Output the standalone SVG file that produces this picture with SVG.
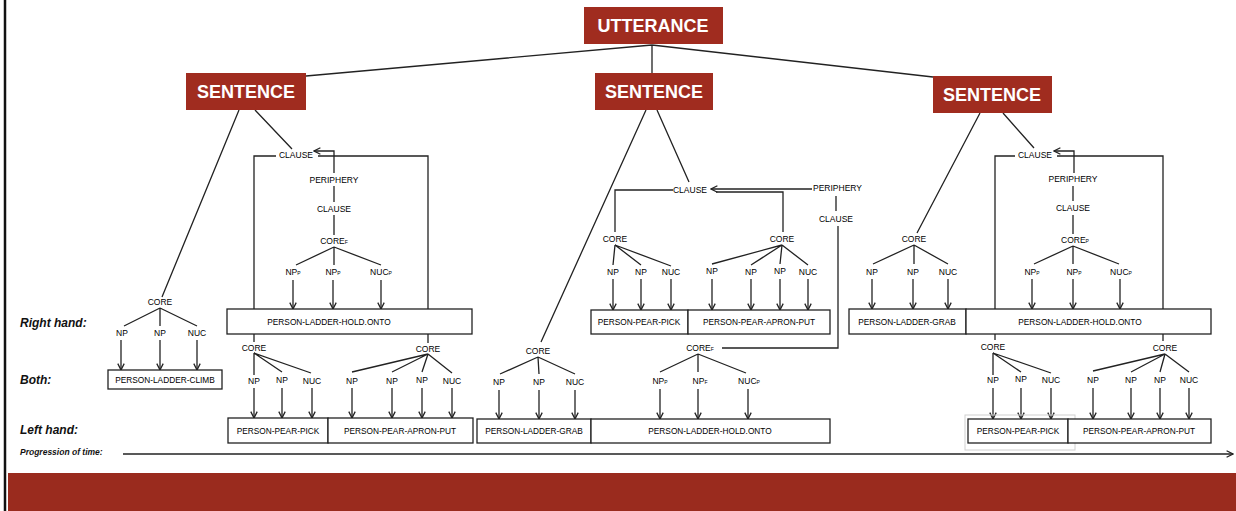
<svg xmlns="http://www.w3.org/2000/svg" width="1236" height="511" viewBox="0 0 1236 511">
<style>
.hdr{fill:#a02c1f}
.ht{font-family:"Liberation Sans",Arial,sans-serif;font-weight:bold;font-size:18px;fill:#fff;text-anchor:middle}
.lb{font-family:"Liberation Sans",Arial,sans-serif;font-size:8.5px;fill:#000;text-anchor:middle}
.bt{font-family:"Liberation Sans",Arial,sans-serif;font-size:8.3px;fill:#000;text-anchor:middle}
.row{font-family:"Liberation Sans",Arial,sans-serif;font-weight:bold;font-style:italic;font-size:12px;fill:#111}
.sub{font-size:5px}
.box{fill:#fff;stroke:#222;stroke-width:1.3}
.ln{fill:none;stroke:#222;stroke-width:1.3}
.ar{fill:none;stroke:#222;stroke-width:1.3;marker-end:url(#ah)}
</style>
<defs>
<marker id="ah" viewBox="0 0 10 10" refX="9" refY="5" markerWidth="8" markerHeight="8" orient="auto" markerUnits="userSpaceOnUse">
<path d="M1,1 L9,5 L1,9" fill="none" stroke="#222" stroke-width="1.6"/>
</marker>
</defs>
<rect width="1236" height="511" fill="#fff"/>
<line x1="5" y1="0" x2="5" y2="511" stroke="#111" stroke-width="2.5"/>
<rect x="8" y="473" width="1228" height="38" fill="#9a2b1e"/>

<g id="connectors">
<path class="ln" d="M652,45 L306,76 M652,45 L652,73 M652,45 L933,77"/>
<!-- left sentence -->
<path class="ln" d="M239,110 L162,297 M255,110 L292,149"/>
<path class="ln" d="M276,156 L254,156 L254,342"/>
<path class="ar" d="M334,173 L334,151 L314,151"/>
<path class="ln" d="M318,156 L428,156 L428,343"/>
<path class="ln" d="M334,186 L334,202 M334,215 L334,235"/>
<path class="ln" d="M334,247 L296,265 M334,247 L334,265 M334,247 L381,265"/>
<line class="ar" x1="293" y1="280" x2="293" y2="309"/>
<line class="ar" x1="333" y1="280" x2="333" y2="309"/>
<line class="ar" x1="381" y1="280" x2="381" y2="309"/>
<path class="ln" d="M160,308 L124,326 M160,308 L160,326 M160,308 L197,326"/>
<line class="ar" x1="121" y1="340" x2="121" y2="370"/>
<line class="ar" x1="160" y1="340" x2="160" y2="370"/>
<line class="ar" x1="197" y1="340" x2="197" y2="370"/>
<path class="ln" d="M254,353 L254,375 M254,353 L282,372 M254,353 L311,373"/>
<line class="ar" x1="254" y1="388" x2="254" y2="418"/>
<line class="ar" x1="282" y1="388" x2="282" y2="418"/>
<line class="ar" x1="312" y1="388" x2="312" y2="418"/>
<path class="ln" d="M428,354 L352,372 M428,354 L392,372 M428,354 L422,372 M428,354 L452,373"/>
<line class="ar" x1="352" y1="388" x2="352" y2="418"/>
<line class="ar" x1="392" y1="388" x2="392" y2="418"/>
<line class="ar" x1="422" y1="388" x2="422" y2="418"/>
<line class="ar" x1="452" y1="388" x2="452" y2="418"/>
<!-- middle sentence -->
<path class="ln" d="M646,110 L541,342 M657,110 L689,182"/>
<path class="ln" d="M673,190 L615,190 L615,232"/>
<path class="ar" d="M812,189 L711,189"/>
<path class="ln" d="M716,192 L783,192 L783,232"/>
<path class="ln" d="M836,196 L836,211 M838,226 L838,348 L722,348"/>
<path class="ln" d="M615,245 L613,265 M615,245 L641,265 M615,245 L671,266"/>
<line class="ar" x1="613" y1="279" x2="613" y2="310"/>
<line class="ar" x1="641" y1="279" x2="641" y2="310"/>
<line class="ar" x1="671" y1="279" x2="671" y2="310"/>
<path class="ln" d="M782,245 L712,264 M782,245 L751,265 M782,245 L780,264 M782,245 L808,265"/>
<line class="ar" x1="712" y1="279" x2="712" y2="310"/>
<line class="ar" x1="751" y1="279" x2="751" y2="310"/>
<line class="ar" x1="780" y1="279" x2="780" y2="310"/>
<line class="ar" x1="808" y1="279" x2="808" y2="310"/>
<path class="ln" d="M538,357 L500,374 M538,357 L539,374 M538,357 L575,374"/>
<line class="ar" x1="499" y1="390" x2="499" y2="419"/>
<line class="ar" x1="539" y1="390" x2="539" y2="419"/>
<line class="ar" x1="575" y1="390" x2="575" y2="419"/>
<path class="ln" d="M698,354 L660,372 M698,354 L698,372 M698,354 L746,373"/>
<line class="ar" x1="660" y1="389" x2="660" y2="419"/>
<line class="ar" x1="698" y1="389" x2="698" y2="419"/>
<line class="ar" x1="748" y1="389" x2="748" y2="419"/>
<!-- right sentence -->
<path class="ln" d="M980,113 L917,233 M1003,113 L1034,148"/>
<path class="ln" d="M1015,156 L995,156 L995,340"/>
<path class="ar" d="M1074,173 L1074,151 L1054,151"/>
<path class="ln" d="M1057,156 L1163,156 L1163,341"/>
<path class="ln" d="M1073,186 L1073,201 M1073,215 L1073,234"/>
<path class="ln" d="M1073,246 L1034,264 M1073,246 L1073,264 M1073,246 L1119,264"/>
<line class="ar" x1="1032" y1="279" x2="1032" y2="309"/>
<line class="ar" x1="1073" y1="279" x2="1073" y2="309"/>
<line class="ar" x1="1120" y1="279" x2="1120" y2="309"/>
<path class="ln" d="M914,245 L873,264 M914,245 L914,264 M914,245 L948,264"/>
<line class="ar" x1="872" y1="279" x2="872" y2="309"/>
<line class="ar" x1="913" y1="279" x2="913" y2="309"/>
<line class="ar" x1="948" y1="279" x2="948" y2="309"/>
<path class="ln" d="M993,353 L993,375 M993,353 L1021,372 M993,353 L1051,373"/>
<line class="ar" x1="993" y1="388" x2="993" y2="419"/>
<line class="ar" x1="1021" y1="388" x2="1021" y2="419"/>
<line class="ar" x1="1051" y1="388" x2="1051" y2="419"/>
<path class="ln" d="M1165,354 L1093,371 M1165,354 L1131,372 M1165,354 L1160,372 M1165,354 L1189,372"/>
<line class="ar" x1="1093" y1="388" x2="1093" y2="419"/>
<line class="ar" x1="1131" y1="388" x2="1131" y2="419"/>
<line class="ar" x1="1160" y1="388" x2="1160" y2="419"/>
<line class="ar" x1="1189" y1="388" x2="1189" y2="419"/>
<!-- time -->
<line class="ar" x1="123" y1="454" x2="1233" y2="454"/>
</g>

<g id="utterance"><rect class="hdr" x="584" y="7" width="139" height="37"/><text class="ht" x="653" y="32">UTTERANCE</text></g>
<g id="sentence1"><rect class="hdr" x="186" y="73" width="120" height="37"/><text class="ht" x="246" y="98">SENTENCE</text></g>
<g id="sentence2"><rect class="hdr" x="595" y="73" width="118" height="37"/><text class="ht" x="654" y="98">SENTENCE</text></g>
<g id="sentence3"><rect class="hdr" x="933" y="76" width="119" height="37"/><text class="ht" x="992" y="101">SENTENCE</text></g>

<g id="row-labels">
<text class="row" x="20" y="327">Right hand:</text>
<text class="row" x="20" y="384">Both:</text>
<text class="row" x="20" y="434">Left hand:</text>
<text class="row" x="20" y="455" style="font-size:8.5px">Progression of time:</text>
</g>

<g id="tree-left">
<text class="lb" x="296" y="158">CLAUSE</text>
<text class="lb" x="334" y="183">PERIPHERY</text>
<text class="lb" x="334" y="212">CLAUSE</text>
<text class="lb" x="334" y="244">CORE<tspan class="sub">F</tspan></text>
<text class="lb" x="293" y="275">NP<tspan class="sub">P</tspan></text>
<text class="lb" x="333" y="275">NP<tspan class="sub">P</tspan></text>
<text class="lb" x="381" y="275">NUC<tspan class="sub">P</tspan></text>
<text class="lb" x="160" y="305">CORE</text>
<text class="lb" x="122" y="336">NP</text>
<text class="lb" x="160" y="336">NP</text>
<text class="lb" x="197" y="336">NUC</text>
<text class="lb" x="254" y="351">CORE</text>
<text class="lb" x="254" y="384">NP</text>
<text class="lb" x="282" y="383">NP</text>
<text class="lb" x="312" y="384">NUC</text>
<text class="lb" x="428" y="352">CORE</text>
<text class="lb" x="352" y="384">NP</text>
<text class="lb" x="392" y="384">NP</text>
<text class="lb" x="422" y="383">NP</text>
<text class="lb" x="452" y="384">NUC</text>
</g>
<g id="boxes-left">
<rect class="box" x="227" y="309" width="245" height="25"/><text class="bt" x="329" y="325">PERSON-LADDER-HOLD.ONTO</text>
<rect class="box" x="108" y="370" width="114" height="19"/><text class="bt" x="165" y="383">PERSON-LADDER-CLIMB</text>
<rect class="box" x="228" y="418" width="100" height="25"/><text class="bt" x="278" y="434">PERSON-PEAR-PICK</text>
<rect class="box" x="328" y="418" width="145" height="25"/><text class="bt" x="400" y="434">PERSON-PEAR-APRON-PUT</text>
</g>

<g id="tree-middle">
<text class="lb" x="690" y="193">CLAUSE</text>
<text class="lb" x="813" y="191" style="text-anchor:start">PERIPHERY</text>
<text class="lb" x="836" y="222">CLAUSE</text>
<text class="lb" x="615" y="242">CORE</text>
<text class="lb" x="613" y="275">NP</text>
<text class="lb" x="641" y="275">NP</text>
<text class="lb" x="671" y="275">NUC</text>
<text class="lb" x="782" y="242">CORE</text>
<text class="lb" x="712" y="274">NP</text>
<text class="lb" x="751" y="275">NP</text>
<text class="lb" x="780" y="274">NP</text>
<text class="lb" x="808" y="275">NUC</text>
<text class="lb" x="538" y="354">CORE</text>
<text class="lb" x="499" y="385">NP</text>
<text class="lb" x="539" y="385">NP</text>
<text class="lb" x="575" y="385">NUC</text>
<text class="lb" x="700" y="351">CORE<tspan class="sub">F</tspan></text>
<text class="lb" x="660" y="384">NP<tspan class="sub">P</tspan></text>
<text class="lb" x="700" y="384">NP<tspan class="sub">F</tspan></text>
<text class="lb" x="749" y="384">NUC<tspan class="sub">P</tspan></text>
</g>
<g id="boxes-middle">
<rect class="box" x="591" y="310" width="97" height="24"/><text class="bt" x="639" y="325">PERSON-PEAR-PICK</text>
<rect class="box" x="688" y="310" width="142" height="24"/><text class="bt" x="759" y="325">PERSON-PEAR-APRON-PUT</text>
<rect class="box" x="477" y="419" width="114" height="24"/><text class="bt" x="534" y="434">PERSON-LADDER-GRAB</text>
<rect class="box" x="591" y="419" width="239" height="24"/><text class="bt" x="710" y="434">PERSON-LADDER-HOLD.ONTO</text>
</g>

<g id="tree-right">
<text class="lb" x="1035" y="158">CLAUSE</text>
<text class="lb" x="1073" y="182">PERIPHERY</text>
<text class="lb" x="1073" y="211">CLAUSE</text>
<text class="lb" x="1075" y="243">CORE<tspan class="sub">P</tspan></text>
<text class="lb" x="1032" y="275">NP<tspan class="sub">P</tspan></text>
<text class="lb" x="1074" y="275">NP<tspan class="sub">P</tspan></text>
<text class="lb" x="1121" y="275">NUC<tspan class="sub">P</tspan></text>
<text class="lb" x="914" y="242">CORE</text>
<text class="lb" x="872" y="275">NP</text>
<text class="lb" x="913" y="275">NP</text>
<text class="lb" x="948" y="275">NUC</text>
<text class="lb" x="993" y="350">CORE</text>
<text class="lb" x="993" y="383">NP</text>
<text class="lb" x="1021" y="382">NP</text>
<text class="lb" x="1051" y="383">NUC</text>
<text class="lb" x="1165" y="351">CORE</text>
<text class="lb" x="1093" y="383">NP</text>
<text class="lb" x="1131" y="383">NP</text>
<text class="lb" x="1160" y="383">NP</text>
<text class="lb" x="1189" y="383">NUC</text>
</g>
<g id="boxes-right">
<rect class="box" x="849" y="309" width="117" height="25"/><text class="bt" x="907" y="325">PERSON-LADDER-GRAB</text>
<rect class="box" x="966" y="309" width="245" height="25"/><text class="bt" x="1080" y="325">PERSON-LADDER-HOLD.ONTO</text>
<rect x="965" y="415" width="110" height="35" fill="none" stroke="#d0d0d0" stroke-width="1"/>
<rect class="box" x="968" y="419" width="100" height="24"/><text class="bt" x="1018" y="434">PERSON-PEAR-PICK</text>
<rect class="box" x="1068" y="419" width="143" height="24"/><text class="bt" x="1139" y="434">PERSON-PEAR-APRON-PUT</text>
</g>
</svg>
